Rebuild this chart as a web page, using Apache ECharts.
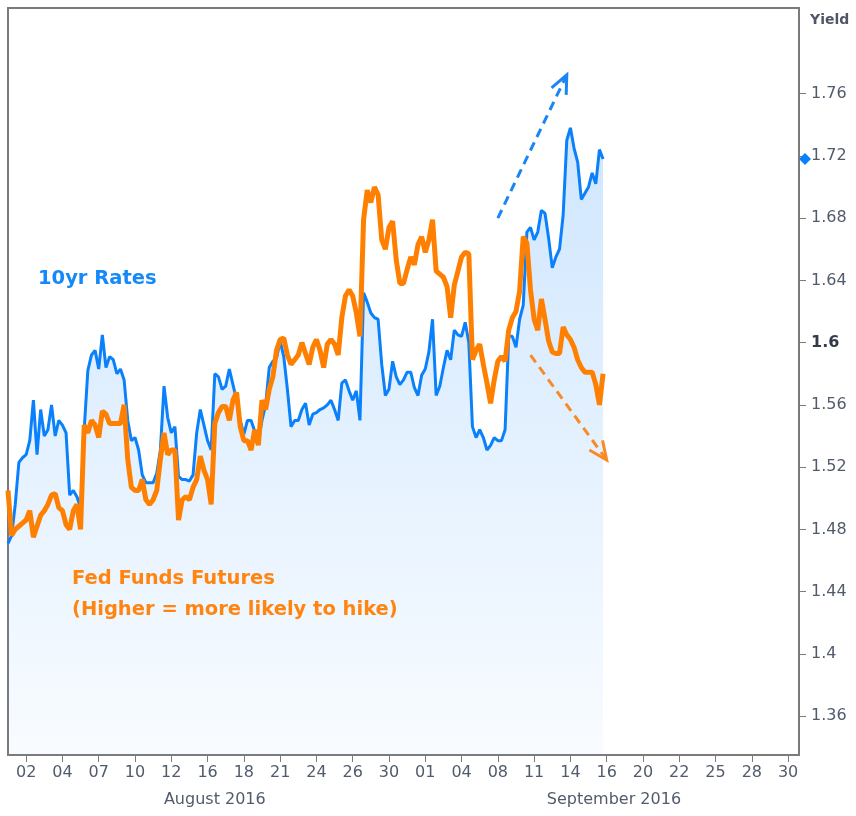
<!DOCTYPE html>
<html>
<head>
<meta charset="utf-8">
<script src="https://cdn.jsdelivr.net/npm/echarts@6/dist/echarts.min.js"></script>
<style>
html,body{margin:0;padding:0;background:#ffffff;}
#c{width:856px;height:816px;}
</style>
</head>
<body>
<div id="c"></div>
<script>
// ---------- data ----------
const tradingDays = [
  '2016-08-01','2016-08-02','2016-08-03','2016-08-04','2016-08-05',
  '2016-08-08','2016-08-09','2016-08-10','2016-08-11','2016-08-12',
  '2016-08-15','2016-08-16','2016-08-17','2016-08-18','2016-08-19',
  '2016-08-22','2016-08-23','2016-08-24','2016-08-25','2016-08-26',
  '2016-08-29','2016-08-30','2016-08-31',
  '2016-09-01','2016-09-02',
  '2016-09-06','2016-09-07','2016-09-08','2016-09-09',
  '2016-09-12','2016-09-13','2016-09-14','2016-09-15','2016-09-16',
  '2016-09-19','2016-09-20','2016-09-21','2016-09-22','2016-09-23',
  '2016-09-26','2016-09-27','2016-09-28','2016-09-29','2016-09-30'
];
const slotsPerDay = 5;
const lastDaySlots = 4;

const tickDays = [
  '2016-08-02','2016-08-04','2016-08-08','2016-08-10','2016-08-12','2016-08-16',
  '2016-08-18','2016-08-22','2016-08-24','2016-08-26','2016-08-30','2016-09-01',
  '2016-09-06','2016-09-08','2016-09-12','2016-09-14','2016-09-16','2016-09-20',
  '2016-09-22','2016-09-26','2016-09-28','2016-09-30'
];
const tickLabels = [
  '02','04','07','10','12','16','18','21','24','26','30','01',
  '04','08','11','14','16','20','22','25','28','30'
];
const monthDays = ['2016-08-16','2016-09-16'];
const monthLabels = ['August 2016','September 2016'];
const yTicks = [1.36,1.40,1.44,1.48,1.52,1.56,1.60,1.64,1.68,1.72,1.76];

const tenYear = [
  1.471,1.476,1.496,1.523,1.526,1.528,1.537,1.563,1.528,1.557,
  1.540,1.544,1.560,1.540,1.550,1.547,1.542,1.502,1.505,1.501,
  1.494,1.544,1.582,1.592,1.595,1.583,1.605,1.584,1.591,1.589,
  1.580,1.583,1.576,1.550,1.537,1.539,1.531,1.515,1.510,1.510,
  1.510,1.516,1.531,1.572,1.552,1.542,1.546,1.514,1.512,1.512,
  1.511,1.515,1.542,1.557,1.547,1.537,1.531,1.580,1.578,1.570,
  1.572,1.583,1.573,1.563,1.550,1.541,1.550,1.550,1.543,1.537,
  1.550,1.560,1.584,1.588,1.590,1.601,1.591,1.570,1.546,1.550,
  1.550,1.557,1.561,1.547,1.554,1.555,1.557,1.558,1.560,1.563,
  1.557,1.550,1.574,1.576,1.569,1.563,1.569,1.550,1.632,1.626,
  1.619,1.616,1.615,1.586,1.566,1.570,1.588,1.578,1.573,1.576,
  1.581,1.581,1.571,1.566,1.579,1.583,1.594,1.615,1.566,1.572,
  1.584,1.595,1.589,1.608,1.605,1.604,1.613,1.600,1.546,1.539,
  1.544,1.539,1.531,1.534,1.539,1.537,1.537,1.544,1.604,1.604,
  1.597,1.615,1.624,1.671,1.674,1.666,1.671,1.685,1.683,1.667,
  1.648,1.655,1.660,1.682,1.730,1.738,1.725,1.716,1.692,1.696,
  1.700,1.709,1.702,1.724,1.718
];
const fedFunds = [
  1.505,1.476,1.480,1.482,1.484,1.486,1.492,1.475,1.482,1.489,
  1.492,1.496,1.502,1.503,1.494,1.492,1.483,1.480,1.492,1.496,
  1.480,1.547,1.542,1.550,1.547,1.539,1.556,1.554,1.548,1.548,
  1.548,1.548,1.560,1.525,1.507,1.505,1.505,1.512,1.499,1.496,
  1.499,1.505,1.525,1.542,1.528,1.531,1.531,1.486,1.499,1.501,
  1.499,1.507,1.512,1.527,1.518,1.512,1.496,1.548,1.555,1.559,
  1.559,1.550,1.563,1.568,1.546,1.537,1.537,1.531,1.544,1.534,
  1.563,1.557,1.570,1.578,1.595,1.602,1.603,1.592,1.586,1.589,
  1.592,1.600,1.593,1.586,1.597,1.602,1.595,1.584,1.599,1.602,
  1.599,1.592,1.616,1.630,1.634,1.630,1.619,1.604,1.679,1.698,
  1.690,1.700,1.695,1.666,1.660,1.674,1.678,1.653,1.638,1.638,
  1.647,1.655,1.650,1.663,1.668,1.658,1.666,1.679,1.646,1.644,
  1.642,1.636,1.616,1.637,1.646,1.655,1.658,1.657,1.589,1.595,
  1.599,1.586,1.574,1.561,1.576,1.588,1.591,1.588,1.608,1.616,
  1.620,1.633,1.668,1.664,1.634,1.615,1.608,1.628,1.615,1.601,
  1.594,1.593,1.593,1.610,1.605,1.602,1.597,1.589,1.584,1.581,
  1.581,1.581,1.573,1.560,1.580
];

// annotation arrows in data space: [slotIndex, yield]
const blueArrow = [[135, 1.680], [154, 1.772]];
const orangeArrow = [[144, 1.592], [165, 1.5246]];

// ---------- build ----------
const categories = [];
tradingDays.forEach(function (d, di) {
  const n = di === tradingDays.length - 1 ? lastDaySlots : slotsPerDay;
  for (let k = 0; k < n; k++) categories.push(d + ' ' + k);
});
const tickMap = {};
tickDays.forEach(function (d, i) { tickMap[d + ' 0'] = tickLabels[i]; });
const monthMap = {};
monthDays.forEach(function (d, i) { monthMap[d + ' 2'] = monthLabels[i]; });

const BLUE = '#0a80fb';
const ORANGE = '#ff8000';
const LABEL = '#525b6c';
const FONT = "'DejaVu Sans', Verdana, sans-serif";

const option = {
  animation: false,
  backgroundColor: '#ffffff',
  grid: {
    left: 8, right: 57, top: 8, bottom: 61,
    show: true, borderColor: '#7b7b7b', borderWidth: 2, backgroundColor: 'transparent'
  },
  xAxis: [{
    type: 'category',
    data: categories,
    boundaryGap: false,
    axisLine: { show: false },
    splitLine: { show: false },
    axisTick: {
      show: true, length: 7,
      interval: function (i, v) { return tickMap[v] !== undefined; },
      lineStyle: { color: '#7b7b7b', width: 1 }
    },
    axisLabel: {
      interval: function (i, v) { return tickMap[v] !== undefined; },
      formatter: function (v) { return tickMap[v] || ''; },
      color: LABEL, fontFamily: FONT, fontSize: 16, margin: 10
    }
  }, {
    type: 'category',
    data: categories,
    boundaryGap: false,
    position: 'bottom',
    offset: 27,
    axisLine: { show: false },
    axisTick: { show: false },
    splitLine: { show: false },
    axisLabel: {
      interval: function (i, v) { return monthMap[v] !== undefined; },
      formatter: function (v) { return monthMap[v] || ''; },
      color: LABEL, fontFamily: FONT, fontSize: 16, margin: 10
    }
  }],
  yAxis: {
    type: 'value',
    position: 'right',
    min: 1.335,
    max: 1.815,
    splitLine: { show: false },
    axisLine: { show: true, lineStyle: { color: '#7b7b7b', width: 2 } },
    axisTick: { show: true, length: 7, customValues: yTicks, lineStyle: { color: '#7b7b7b', width: 1 } },
    axisLabel: {
      customValues: yTicks,
      margin: 12,
      color: LABEL, fontFamily: FONT, fontSize: 16,
      formatter: function (v) {
        const s = String(+v.toFixed(2));
        return Math.abs(v - 1.6) < 1e-6 ? '{b|' + s + '}' : s;
      },
      rich: { b: { fontWeight: 'bold', color: '#333a48', fontFamily: FONT, fontSize: 16 } }
    }
  },
  series: [{
    name: '10yr Rates',
    type: 'line',
    data: tenYear,
    showSymbol: false,
    z: 2,
    lineStyle: { color: BLUE, width: 3 },
    areaStyle: {
      origin: 'start',
      color: {
        type: 'linear', x: 0, y: 0, x2: 0, y2: 1,
        colorStops: [
          { offset: 0, color: 'rgba(10,128,251,0.28)' },
          { offset: 1, color: 'rgba(10,128,251,0.04)' }
        ]
      }
    }
  }, {
    name: 'Fed Funds Futures',
    type: 'line',
    data: fedFunds,
    showSymbol: false,
    z: 3,
    lineStyle: { color: ORANGE, width: 5 }
  }]
};

const chart = echarts.init(document.getElementById('c'));
chart.setOption(option);

function px(p) { return chart.convertToPixel({ gridIndex: 0 }, p); }
function arrowGraphics(arr, color) {
  const S = px(arr[0]), E = px(arr[1]);
  const dx = E[0] - S[0], dy = E[1] - S[1];
  const d = Math.hypot(dx, dy);
  const bx = -dx / d, by = -dy / d;
  const len = 20, a = 24 * Math.PI / 180;
  const c = Math.cos(a), s = Math.sin(a);
  const p1 = [E[0] + len * (bx * c - by * s), E[1] + len * (bx * s + by * c)];
  const p2 = [E[0] + len * (bx * c + by * s), E[1] + len * (-bx * s + by * c)];
  return [{
    type: 'line', silent: true, z: 10,
    shape: { x1: S[0], y1: S[1], x2: E[0] + bx * 3, y2: E[1] + by * 3 },
    style: { stroke: color, lineWidth: 3, lineDash: [9, 6] }
  }, {
    type: 'polyline', silent: true, z: 10,
    shape: { points: [p1, E, p2] },
    style: { stroke: color, lineWidth: 3, fill: null }
  }];
}

const lastBlue = tenYear[tenYear.length - 1];
const gridRight = chart.getWidth() - 57;
const dy = chart.convertToPixel({ yAxisIndex: 0 }, lastBlue);

const graphics = []
  .concat(arrowGraphics(blueArrow, '#1a86f5'))
  .concat(arrowGraphics(orangeArrow, '#f98a25'))
  .concat([{
    type: 'polygon', silent: true, z: 12,
    shape: { points: [[gridRight + 6, dy - 6], [gridRight + 12, dy], [gridRight + 6, dy + 6], [gridRight, dy]] },
    style: { fill: BLUE }
  }, {
    type: 'text', silent: true, z: 12, x: 38, y: 279,
    style: { text: '10yr Rates', fill: '#1689fa', font: 'bold 19.5px ' + FONT, verticalAlign: 'middle' }
  }, {
    type: 'text', silent: true, z: 12, x: 72, y: 579,
    style: { text: 'Fed Funds Futures', fill: '#ff8410', font: 'bold 19.5px ' + FONT, verticalAlign: 'middle' }
  }, {
    type: 'text', silent: true, z: 12, x: 72, y: 610,
    style: { text: '(Higher = more likely to hike)', fill: '#ff8410', font: 'bold 19.5px ' + FONT, verticalAlign: 'middle' }
  }, {
    type: 'text', silent: true, z: 12, x: 810, y: 20,
    style: { text: 'Yield', fill: '#4f5666', font: 'bold 14px ' + FONT, verticalAlign: 'middle' }
  }]);

chart.setOption({ graphic: graphics });
</script>
</body>
</html>
